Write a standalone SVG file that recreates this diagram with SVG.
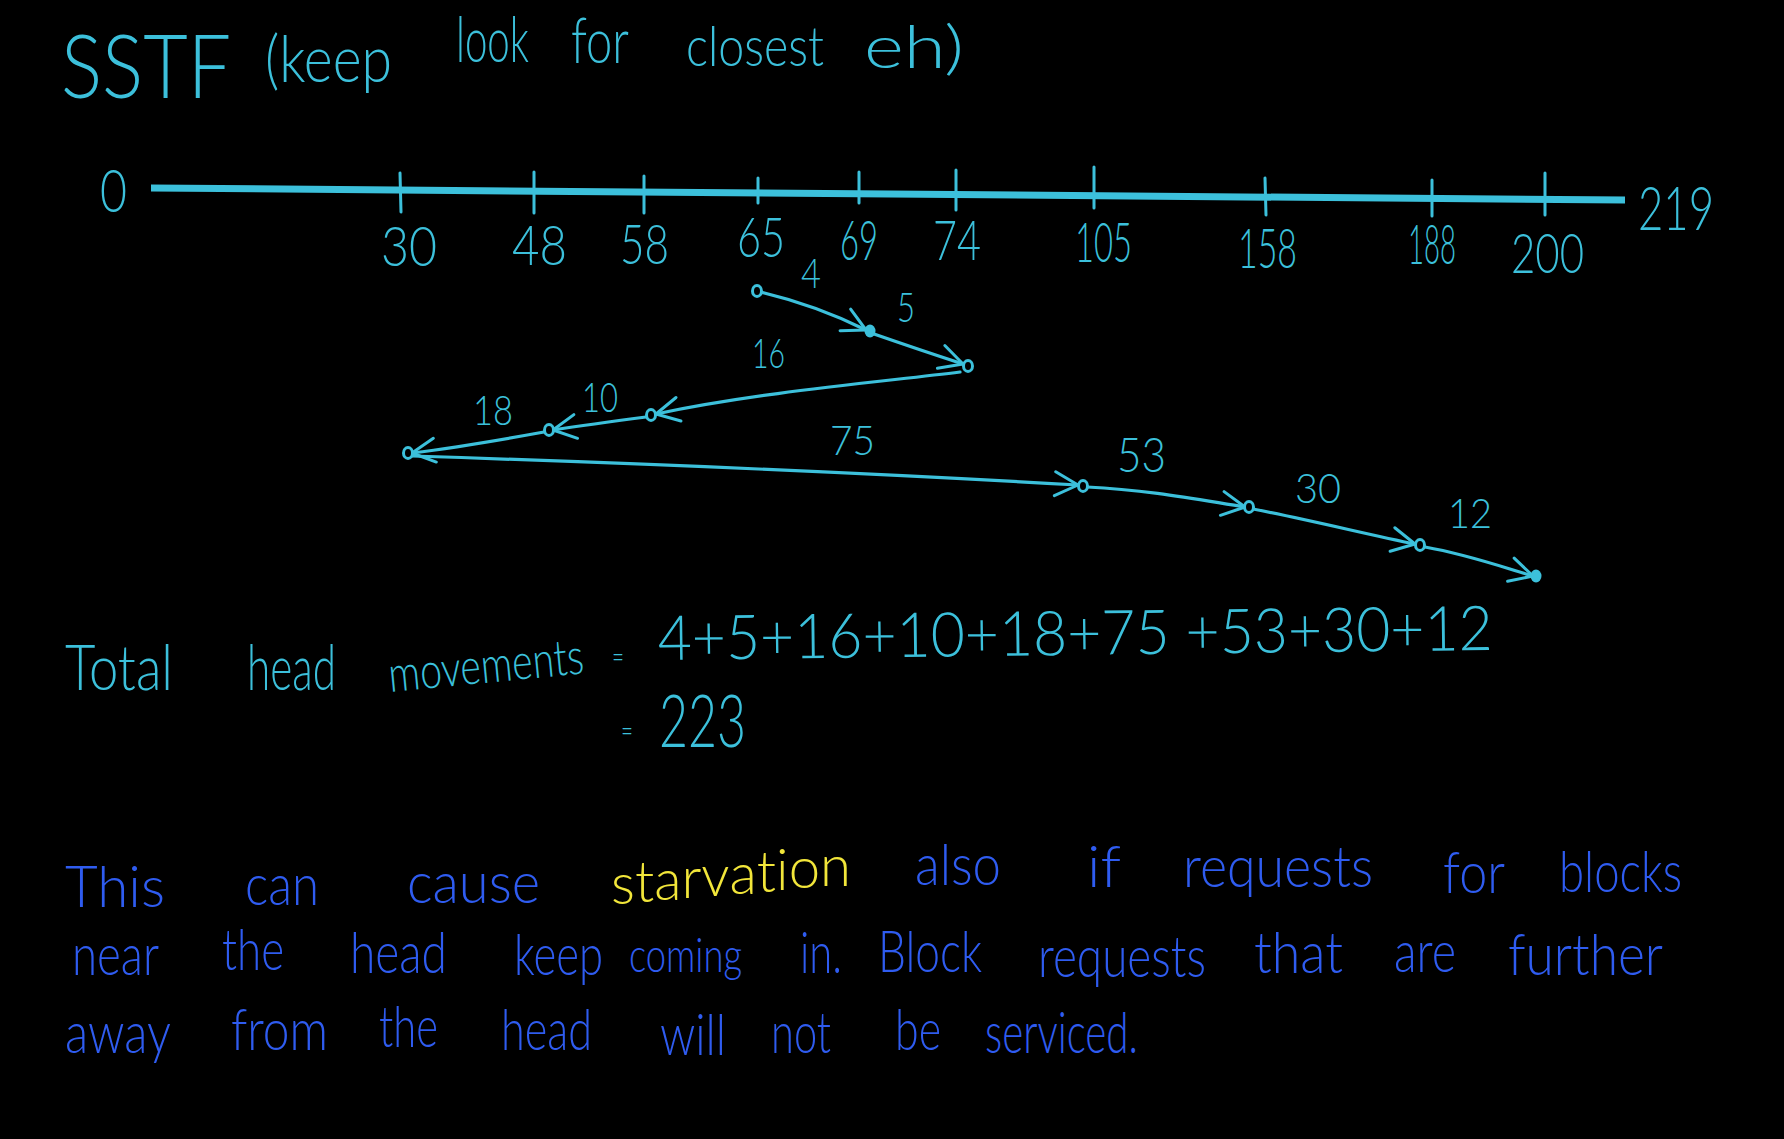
<svg xmlns="http://www.w3.org/2000/svg" width="1784" height="1139" viewBox="0 0 1784 1139">
<style>
text{font-family:Lato,"Liberation Sans","DejaVu Sans",sans-serif;font-weight:300;}
.c{fill:#3cc0db;}
.b{fill:#2f5cf0;}
.y{fill:#f2e63a;}
.tk{stroke:#3cc0db;stroke-width:3;stroke-linecap:round;}
.cn{fill:none;stroke:#3cc0db;stroke-width:3.2;stroke-linecap:round;}
.dot{fill:#000;stroke:#3cc0db;stroke-width:3;}
.lbl{font-size:42px;}
.num{font-size:56px;}
.bt{font-size:57px;}
</style>
<defs>
<marker id="ah" viewBox="0 0 28 28" refX="25" refY="14" markerWidth="28" markerHeight="28" markerUnits="userSpaceOnUse" orient="auto">
<path d="M2,2 L25,14 L2,26" fill="none" stroke="#3cc0db" stroke-width="3" stroke-linecap="round" stroke-linejoin="round"/>
</marker>
</defs>
<rect x="0" y="0" width="1784" height="1139" fill="#000"/>

<g id="title">
<text class="c" x="61" y="98" font-size="88" textLength="170" lengthAdjust="spacingAndGlyphs">SSTF</text>
<text class="c" x="265" y="82" font-size="66" textLength="127" lengthAdjust="spacingAndGlyphs">(keep</text>
<text class="c" x="456" y="62" font-size="64" textLength="73" lengthAdjust="spacingAndGlyphs">look</text>
<text class="c" x="571" y="63" font-size="64" textLength="58" lengthAdjust="spacingAndGlyphs">for</text>
<text class="c" x="686" y="66" font-size="56" textLength="138" lengthAdjust="spacingAndGlyphs">closest</text>
<text class="c" x="864" y="68" font-size="60" textLength="100" lengthAdjust="spacingAndGlyphs">eh)</text>
</g>

<g id="axis">
<line x1="151" y1="188" x2="1625" y2="200" stroke="#3cc0db" stroke-width="7" stroke-linecap="butt"/>
<line class="tk" x1="400" y1="173" x2="401" y2="212"/>
<line class="tk" x1="534" y1="172" x2="534" y2="213"/>
<line class="tk" x1="644" y1="176" x2="644" y2="213"/>
<line class="tk" x1="758" y1="178" x2="758" y2="203"/>
<line class="tk" x1="859" y1="172" x2="859" y2="203"/>
<line class="tk" x1="956" y1="170" x2="956" y2="210"/>
<line class="tk" x1="1094" y1="167" x2="1094" y2="208"/>
<line class="tk" x1="1265" y1="178" x2="1266" y2="215"/>
<line class="tk" x1="1432" y1="180" x2="1432" y2="216"/>
<line class="tk" x1="1545" y1="173" x2="1545" y2="215"/>
<text class="c" x="100" y="212" textLength="27" lengthAdjust="spacingAndGlyphs" style="font-size:60px">0</text>
<text class="c num" x="381" y="266" textLength="56" lengthAdjust="spacingAndGlyphs">30</text>
<text class="c num" x="512" y="265" textLength="55" lengthAdjust="spacingAndGlyphs">48</text>
<text class="c num" x="620" y="264" textLength="49" lengthAdjust="spacingAndGlyphs">58</text>
<text class="c num" x="737" y="257" textLength="48" lengthAdjust="spacingAndGlyphs">65</text>
<text class="c num" x="840" y="260" textLength="38" lengthAdjust="spacingAndGlyphs">69</text>
<text class="c num" x="933" y="260" textLength="48" lengthAdjust="spacingAndGlyphs">74</text>
<text class="c num" x="1075" y="262" textLength="57" lengthAdjust="spacingAndGlyphs">105</text>
<text class="c num" x="1238" y="268" textLength="59" lengthAdjust="spacingAndGlyphs">158</text>
<text class="c num" x="1408" y="264" textLength="48" lengthAdjust="spacingAndGlyphs">188</text>
<text class="c num" x="1511" y="273" textLength="73" lengthAdjust="spacingAndGlyphs">200</text>
<text class="c" x="1638" y="230" textLength="76" lengthAdjust="spacingAndGlyphs" style="font-size:62px">219</text>
</g>

<g id="connectors">
<path class="cn" d="M760,292 Q815,305 866,330" marker-end="url(#ah)"/>
<path class="cn" d="M874,334 Q920,350 963,364" marker-end="url(#ah)"/>
<path class="cn" d="M960,372 C880,382 760,392 656,414" marker-end="url(#ah)"/>
<path class="cn" d="M646,417 C615,421 585,425 553,430" marker-end="url(#ah)"/>
<path class="cn" d="M544,432 C500,440 460,447 412,453" marker-end="url(#ah)"/>
<path class="cn" d="M412,456 C600,462 850,472 1078,485" marker-end="url(#ah)"/>
<path class="cn" d="M1087,487 C1150,490 1200,500 1245,507" marker-end="url(#ah)"/>
<path class="cn" d="M1253,509 C1310,520 1370,535 1415,544" marker-end="url(#ah)"/>
<path class="cn" d="M1425,547 C1470,555 1505,568 1533,576" marker-end="url(#ah)"/>
<text class="c lbl" x="801" y="288" textLength="20" lengthAdjust="spacingAndGlyphs">4</text>
<text class="c lbl" x="897" y="322" textLength="18" lengthAdjust="spacingAndGlyphs">5</text>
<text class="c lbl" x="752" y="368" textLength="33" lengthAdjust="spacingAndGlyphs">16</text>
<text class="c lbl" x="582" y="412" textLength="36" lengthAdjust="spacingAndGlyphs">10</text>
<text class="c lbl" x="473" y="425" textLength="40" lengthAdjust="spacingAndGlyphs">18</text>
<text class="c lbl" x="830" y="455" textLength="45" lengthAdjust="spacingAndGlyphs">75</text>
<text class="c" x="1117" y="472" textLength="49" lengthAdjust="spacingAndGlyphs" style="font-size:48px">53</text>
<text class="c lbl" x="1295" y="503" textLength="46" lengthAdjust="spacingAndGlyphs">30</text>
<text class="c lbl" x="1448" y="528" textLength="44" lengthAdjust="spacingAndGlyphs">12</text>
</g>

<g id="points">
<ellipse class="dot" cx="757" cy="291" rx="4.5" ry="5.5"/>
<ellipse cx="870" cy="331" rx="5.5" ry="6.5" fill="#3cc0db"/>
<ellipse class="dot" cx="968" cy="366" rx="4.5" ry="5.5"/>
<ellipse class="dot" cx="651" cy="415" rx="4.5" ry="5.5"/>
<ellipse class="dot" cx="549" cy="430" rx="4.5" ry="5.5"/>
<ellipse class="dot" cx="408" cy="453" rx="4.5" ry="5.5"/>
<ellipse class="dot" cx="1083" cy="486" rx="4.5" ry="5.5"/>
<ellipse class="dot" cx="1249" cy="507" rx="4.5" ry="5.5"/>
<ellipse class="dot" cx="1420" cy="545" rx="4.5" ry="5.5"/>
<ellipse cx="1536" cy="576" rx="5.5" ry="6.5" fill="#3cc0db"/>
</g>

<g id="total">
<text class="c" x="65" y="690" font-size="64" textLength="108" lengthAdjust="spacingAndGlyphs">Total</text>
<text class="c" x="247" y="690" font-size="64" textLength="89" lengthAdjust="spacingAndGlyphs">head</text>
<text class="c" x="390" y="692" font-size="50" textLength="196" lengthAdjust="spacingAndGlyphs" transform="rotate(-5.5 390 692)">movements</text>
<text class="c" x="612" y="668" font-size="34" textLength="12" lengthAdjust="spacingAndGlyphs">=</text>
<text class="c" x="658" y="660" font-size="62" textLength="835" lengthAdjust="spacingAndGlyphs" transform="rotate(-0.7 658 660)">4+5+16+10+18+75 +53+30+12</text>
<text class="c" x="621" y="742" font-size="34" textLength="12" lengthAdjust="spacingAndGlyphs">=</text>
<text class="c" x="659" y="747" font-size="72" textLength="87" lengthAdjust="spacingAndGlyphs">223</text>
</g>

<g id="note">
<text class="b bt" x="65" y="907" textLength="100" lengthAdjust="spacingAndGlyphs">This</text>
<text class="b bt" x="245" y="905" textLength="74" lengthAdjust="spacingAndGlyphs">can</text>
<text class="b bt" x="407" y="903" textLength="133" lengthAdjust="spacingAndGlyphs">cause</text>
<text class="y bt" x="611" y="904 902 900 898 896 894 892 890 888 886" textLength="240" lengthAdjust="spacingAndGlyphs">starvation</text>
<text class="b bt" x="915" y="885" textLength="86" lengthAdjust="spacingAndGlyphs">also</text>
<text class="b bt" x="1087" y="887" textLength="34" lengthAdjust="spacingAndGlyphs">if</text>
<text class="b bt" x="1183" y="887" textLength="190" lengthAdjust="spacingAndGlyphs">requests</text>
<text class="b bt" x="1443" y="893" textLength="62" lengthAdjust="spacingAndGlyphs">for</text>
<text class="b bt" x="1559" y="892" textLength="123" lengthAdjust="spacingAndGlyphs">blocks</text>

<text class="b bt" x="72" y="975" textLength="87" lengthAdjust="spacingAndGlyphs">near</text>
<text class="b bt" x="222" y="970" textLength="62" lengthAdjust="spacingAndGlyphs">the</text>
<text class="b bt" x="350" y="973" textLength="97" lengthAdjust="spacingAndGlyphs">head</text>
<text class="b bt" x="514" y="975" textLength="89" lengthAdjust="spacingAndGlyphs">keep</text>
<text class="b" x="629" y="972" style="font-size:48px" textLength="113" lengthAdjust="spacingAndGlyphs">coming</text>
<text class="b bt" x="800" y="973" textLength="42" lengthAdjust="spacingAndGlyphs">in.</text>
<text class="b bt" x="878" y="972" textLength="104" lengthAdjust="spacingAndGlyphs">Block</text>
<text class="b bt" x="1038" y="977" textLength="168" lengthAdjust="spacingAndGlyphs">requests</text>
<text class="b bt" x="1254" y="973" textLength="89" lengthAdjust="spacingAndGlyphs">that</text>
<text class="b bt" x="1394" y="972" textLength="62" lengthAdjust="spacingAndGlyphs">are</text>
<text class="b bt" x="1508" y="975" textLength="155" lengthAdjust="spacingAndGlyphs">further</text>

<text class="b bt" x="65" y="1053" textLength="106" lengthAdjust="spacingAndGlyphs">away</text>
<text class="b bt" x="231" y="1050" textLength="97" lengthAdjust="spacingAndGlyphs">from</text>
<text class="b bt" x="379" y="1047" textLength="59" lengthAdjust="spacingAndGlyphs">the</text>
<text class="b bt" x="501" y="1050" textLength="91" lengthAdjust="spacingAndGlyphs">head</text>
<text class="b bt" x="660" y="1055" textLength="66" lengthAdjust="spacingAndGlyphs">will</text>
<text class="b bt" x="771" y="1053" textLength="60" lengthAdjust="spacingAndGlyphs">not</text>
<text class="b bt" x="895" y="1050" textLength="46" lengthAdjust="spacingAndGlyphs">be</text>
<text class="b bt" x="985" y="1053" textLength="153" lengthAdjust="spacingAndGlyphs">serviced.</text>
</g>
</svg>
